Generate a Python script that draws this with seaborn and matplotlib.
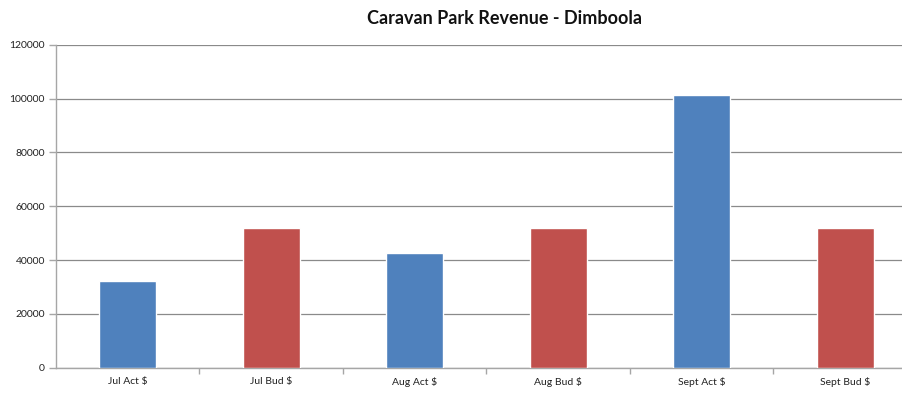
import matplotlib
matplotlib.use("Agg")
import matplotlib.pyplot as plt
import seaborn as sns
from matplotlib.ticker import FixedLocator

categories = ["Jul Act $", "Jul Bud $", "Aug Act $", "Aug Bud $", "Sept Act $", "Sept Bud $"]
revenue = [32300, 52000, 42500, 52000, 101500, 52000]
bar_colors = ["#4F81BD", "#C0504D", "#4F81BD", "#C0504D", "#4F81BD", "#C0504D"]
y_ticks = [0, 20000, 40000, 60000, 80000, 100000, 120000]

sns.set_style("white")
plt.rcParams["font.family"] = ["Lato", "DejaVu Sans"]

fig = plt.figure(figsize=(9.03, 3.94), dpi=100)
ax = fig.add_axes([56 / 903, 1 - 367.5 / 394, 861 / 903, (367.5 - 45) / 394])

sns.barplot(x=categories, y=revenue, hue=categories, palette=bar_colors,
            width=0.4, legend=False, saturation=1, ax=ax, zorder=3)

ax.set_xlim(-0.5, len(categories) - 0.5)
ax.set_ylim(0, 120000)
ax.set_yticks(y_ticks)
ax.set_yticklabels([str(v) for v in y_ticks])
ax.yaxis.grid(True, color="#8a8a8a", linewidth=0.9, zorder=0)
ax.xaxis.grid(False)

for side in ("top", "right"):
    ax.spines[side].set_visible(False)
for side in ("left", "bottom"):
    ax.spines[side].set_color("#a6a6a6")
    ax.spines[side].set_linewidth(1.0)

ax.tick_params(axis="y", which="major", length=5, width=1, color="#a6a6a6",
               labelsize=7.5, labelcolor="#222222", pad=3, left=True)
ax.tick_params(axis="x", which="major", length=0, labelsize=7.5,
               labelcolor="#222222", pad=7)
ax.xaxis.set_minor_locator(FixedLocator([i + 0.5 for i in range(len(categories) - 1)]))
ax.tick_params(axis="x", which="minor", length=4, width=1, color="#a6a6a6", bottom=True)
ax.set_xlabel("")
ax.set_ylabel("")

fig.text(505 / 903, 1 - 18 / 394, "Caravan Park Revenue - Dimboola",
         ha="center", va="center", fontsize=13, fontweight="bold", color="#111111")

fig.savefig("out.png", dpi=100)
